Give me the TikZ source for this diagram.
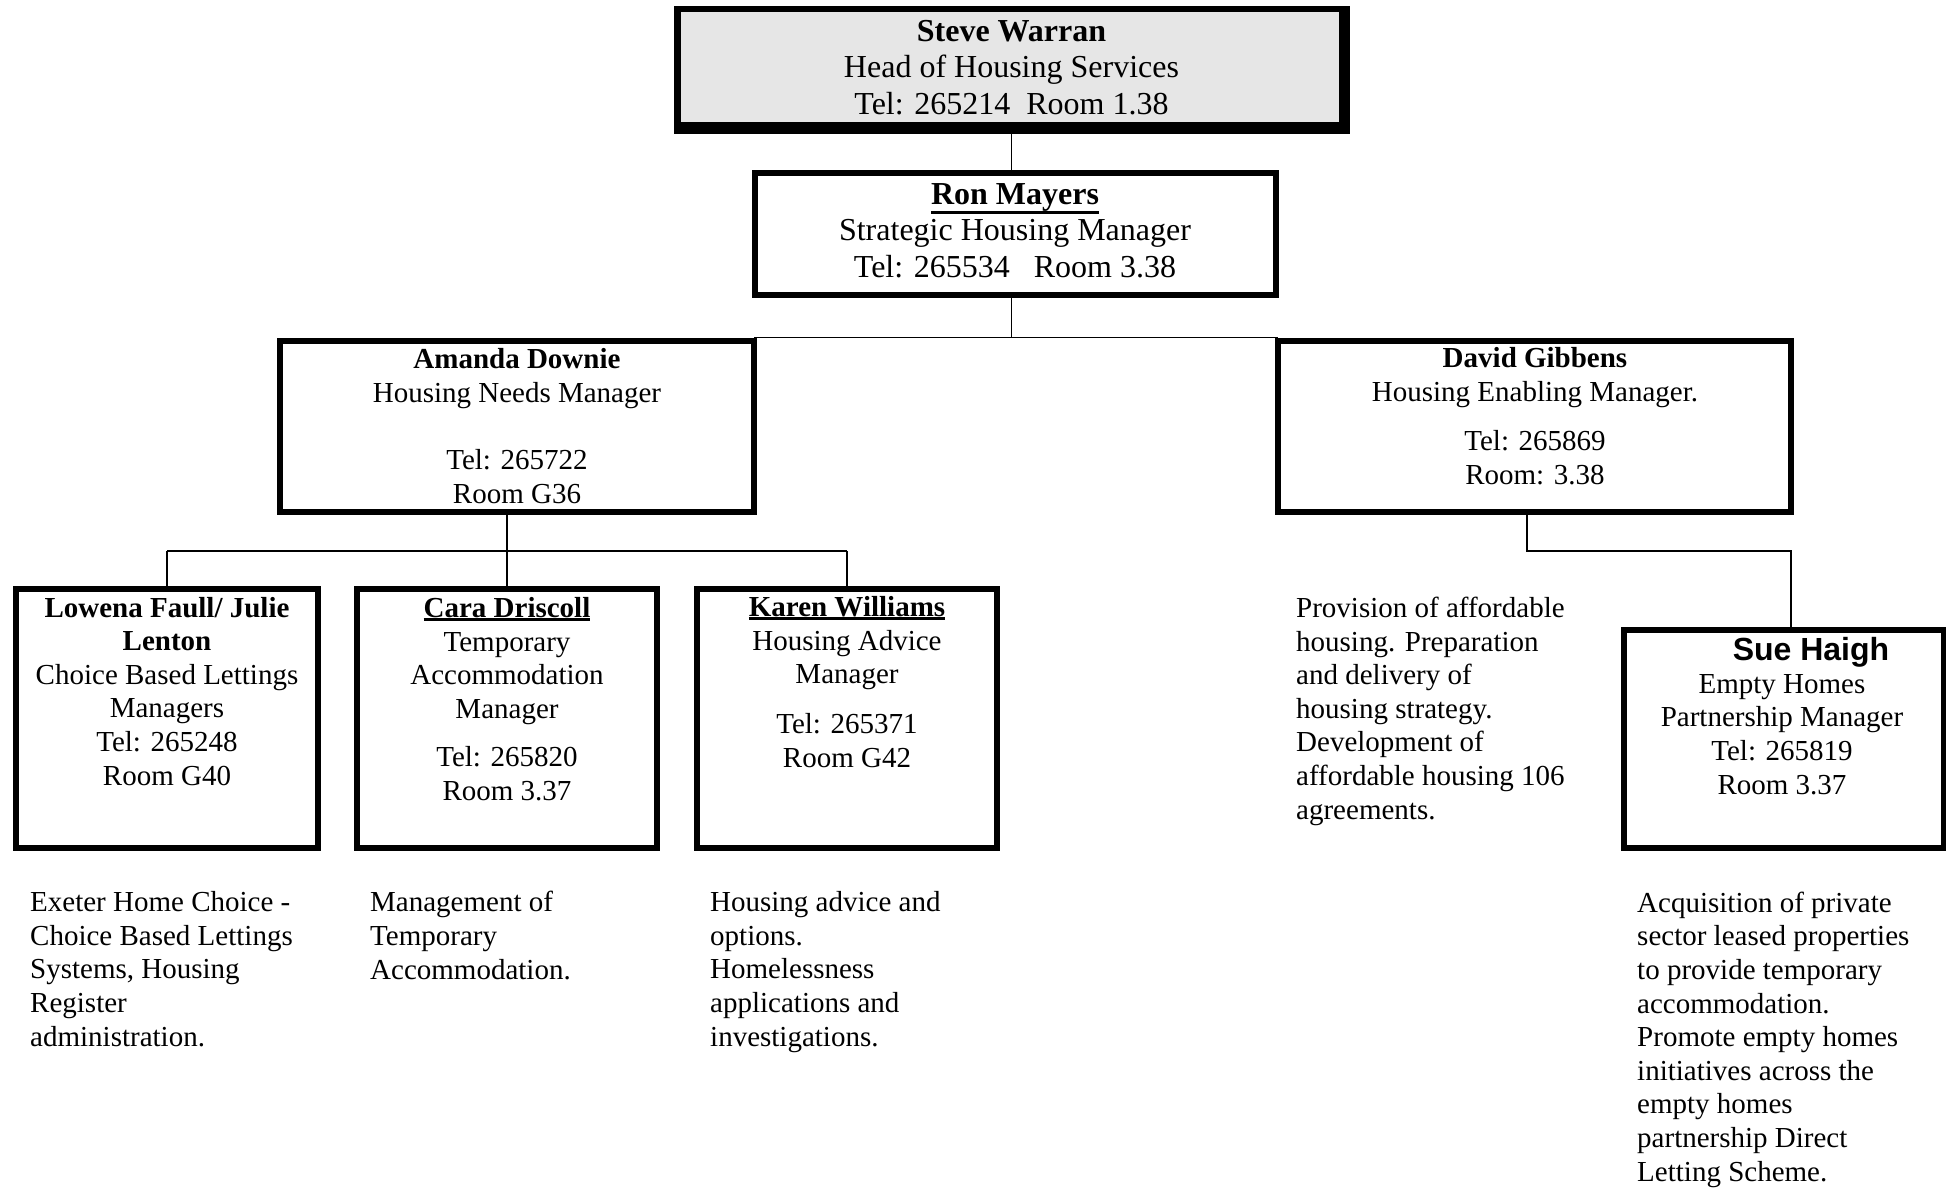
\documentclass[tikz,border=0pt]{standalone}
\usepackage{fontspec}
\setmainfont{Liberation Serif}
\newfontfamily\suefont{Liberation Sans}
\definecolor{headgray}{RGB}{230,230,230}
\newcommand\thickul[1]{\setbox0\hbox{#1}\leavevmode\rlap{\usebox0}\rule[-\dimexpr\dp0+3pt\relax]{\wd0}{2.6pt}}
\begin{document}
\begin{tikzpicture}[x=1pt,y=-1pt,
  box/.style={draw=black, line width=6pt, fill=white, inner sep=0pt, outer sep=0pt},
  big/.style={font=\fontsize{32}{36.5}\selectfont, align=center, inner sep=0pt, anchor=base},
  mid/.style={font=\fontsize{29}{33.6}\selectfont, align=center, inner sep=0pt, anchor=base},
  para/.style={font=\fontsize{29}{33.6}\selectfont, align=left, inner sep=0pt, anchor=base west},
  link/.style={line width=1.3pt, draw=black}]
\useasboundingbox (0,0) rectangle (1946,1187);
\fill[white] (0,0) rectangle (1946,1187);

% boxes
\node[fill=black, minimum width=676, minimum height=128, inner sep=0pt, outer sep=0pt] (steve) at (1011.5,70) {};
\fill[headgray] (681,12) rectangle (1339,122);
\node[box, minimum width=521, minimum height=122] (ron) at (1015.5,234) {};
\node[box, minimum width=474, minimum height=171] (amanda) at (517,426) {};
\node[box, minimum width=513, minimum height=171] (david) at (1534.5,426) {};
\node[box, minimum width=302, minimum height=259] (lowena) at (167,718.5) {};
\node[box, minimum width=300, minimum height=259] (cara) at (507,718.5) {};
\node[box, minimum width=300, minimum height=259] (karen) at (847,718.5) {};
\node[box, minimum width=320, minimum height=218] (sue) at (1784,739) {};

% connectors
\coordinate (bus) at (507,551);
\coordinate (dturn) at (1527,551);
\draw[link] (steve.south) -- (steve.south |- ron.north);
\draw[link] (ron.south -| steve.south) -- ([yshift=3pt]steve.south |- amanda.north);
\draw[link] ([yshift=3pt]amanda.north east) -- ([yshift=3pt]david.north west);
\draw[link] (amanda.south -| cara.north) -- (cara.north);
\draw[link] (lowena.north |- bus) -- (karen.north |- bus);
\draw[link] (lowena.north |- bus) -- (lowena.north);
\draw[link] (karen.north |- bus) -- (karen.north);
\draw[link] (david.south -| dturn) -- (dturn) -- (dturn -| david.east) -- (david.east |- sue.north);

% box texts (anchor = baseline of last line)
\node[big] (tsteve) at (1011.5,114) {\textbf{Steve Warran}\\Head of Housing Services\\Tel: 265214~~Room 1.38};
\node[big] (tron) at (1015,277) {\thickul{\textbf{Ron Mayers}}\\Strategic Housing Manager\\Tel: 265534~~~Room 3.38};
\node[mid] (tamanda) at (517,503) {\textbf{Amanda Downie}\\Housing Needs Manager\\[33.6pt]Tel: 265722\\Room G36};
\node[mid] (tdavid) at (1535,484) {\textbf{David Gibbens}\\Housing Enabling Manager.\\[15.4pt]Tel: 265869\\Room: 3.38};
\node[mid] (tlowena) at (167,785) {\textbf{Lowena Faull/ Julie}\\\textbf{Lenton}\\Choice Based Lettings\\Managers\\Tel: 265248\\Room G40};
\node[mid] (tcara) at (507,800) {\thickul{\textbf{Cara Driscoll}}\\Temporary\\Accommodation\\Manager\\[14.4pt]Tel: 265820\\Room 3.37};
\node[mid] (tkaren) at (847,767) {\thickul{\textbf{Karen Williams}}\\Housing Advice\\Manager\\[16pt]Tel: 265371\\Room G42};
\node[font=\suefont\bfseries\fontsize{32}{36}\selectfont, inner sep=0pt, anchor=base] (tsuename) at (1811,660) {Sue Haigh};
\node[mid] (tsue) at (1782,794) {Empty Homes\\Partnership Manager\\Tel: 265819\\Room 3.37};

% descriptions
\node[para] (dprov) at (1296,819) {Provision of affordable\\housing. Preparation\\and delivery of\\housing strategy.\\Development of\\affordable housing 106\\agreements.};
\node[para] (dexeter) at (30,1046) {Exeter Home Choice -\\Choice Based Lettings\\Systems, Housing\\Register\\administration.};
\node[para] (dmgmt) at (370,979) {Management of\\Temporary\\Accommodation.};
\node[para] (dadvice) at (710,1046) {Housing advice and\\options.\\Homelessness\\applications and\\investigations.};
\node[para] (dacq) at (1637,1181) {Acquisition of private\\sector leased properties\\to provide temporary\\accommodation.\\Promote empty homes\\initiatives across the\\empty homes\\partnership Direct\\Letting Scheme.};
\end{tikzpicture}
\end{document}
